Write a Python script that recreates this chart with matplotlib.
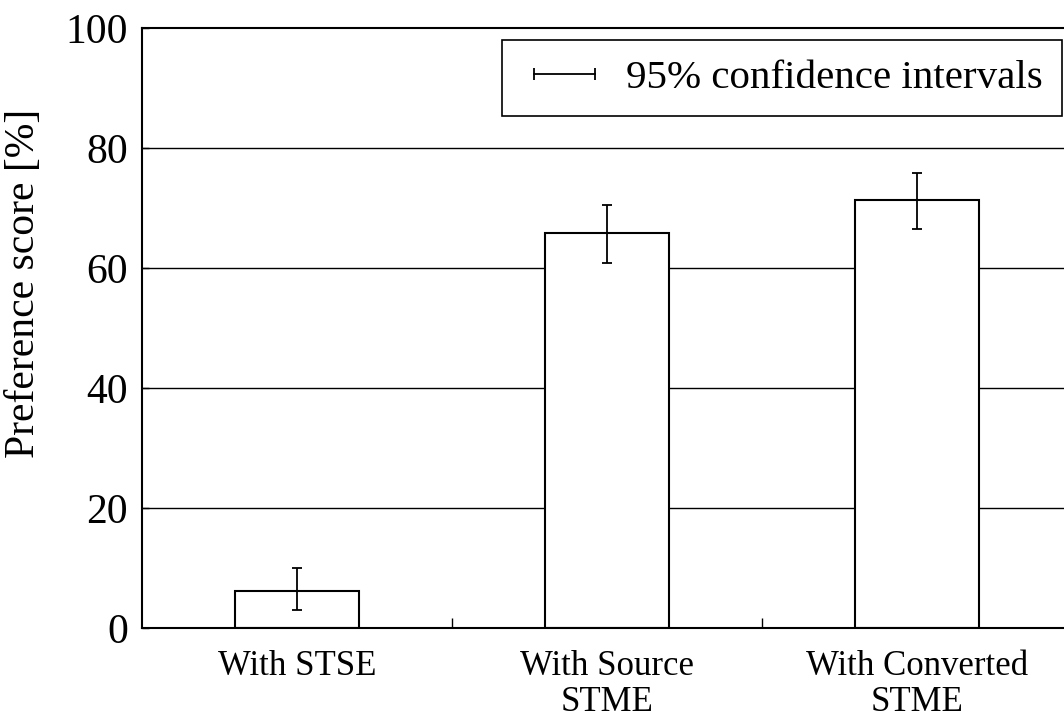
import matplotlib
matplotlib.use('Agg')
import matplotlib.pyplot as plt
from matplotlib.lines import Line2D

plt.rcParams['font.family'] = ['Liberation Serif', 'DejaVu Serif']

# 条件与偏好得分
categories = ['With STSE', 'With Source\nSTME', 'With Converted\nSTME']
scores = [6.2, 65.9, 71.4]
ci_low = [3.0, 60.9, 66.5]    # 95%置信区间下限
ci_high = [10.0, 70.5, 75.9]  # 95%置信区间上限

x = list(range(len(categories)))
err = [[s - lo for s, lo in zip(scores, ci_low)],
       [hi - s for s, hi in zip(scores, ci_high)]]

fig = plt.figure(figsize=(10.64, 7.21), dpi=100)
ax = fig.add_axes([142 / 1064, 93 / 721, 930 / 1064, 600 / 721])

# 横向网格线放在柱子后面
for yv in [20, 40, 60, 80]:
    ax.axhline(yv, color='black', linewidth=1.0, zorder=0)

ax.bar(x, scores, width=0.40, color='white', edgecolor='black',
       linewidth=1.5, zorder=2)
ax.errorbar(x, scores, yerr=err, fmt='none', ecolor='black',
            elinewidth=1.3, capsize=3.6, capthick=1.3, zorder=3)

ax.set_xlim(-0.5, 2.5)
ax.set_ylim(0, 100)
ax.set_yticks([0, 20, 40, 60, 80, 100])
ax.set_xticks([0.5, 1.5])
ax.set_xticklabels([])
ax.tick_params(axis='y', direction='in', length=5, width=1, labelsize=30, pad=10)
ax.tick_params(axis='x', direction='in', length=7, width=1)
for s in ax.spines.values():
    s.set_linewidth(1.5)

# 类别标签写在柱子下方
for xi, lab in zip(x, categories):
    ax.text(xi, -3.6, lab, ha='center', va='top', fontsize=25,
            linespacing=1.13, transform=ax.transData)

ax.set_ylabel('Preference score [%]', fontsize=30)
ax.yaxis.set_label_coords(-0.1065, 0.575)

handle = Line2D([], [], color='black', linewidth=1.3, marker='|',
                markersize=9, markeredgewidth=1.3)
leg = ax.legend([handle], ['95% confidence intervals'], loc='upper right',
                bbox_to_anchor=(1062 / 1064, 1 - 40 / 721),
                bbox_transform=fig.transFigure, fontsize=29.5, numpoints=2,
                fancybox=False, edgecolor='black', framealpha=1,
                borderaxespad=0, handlelength=2.1, handletextpad=0.45,
                borderpad=0.47)
leg.get_frame().set_linewidth(1.2)

fig.savefig('out.png', dpi=100)
